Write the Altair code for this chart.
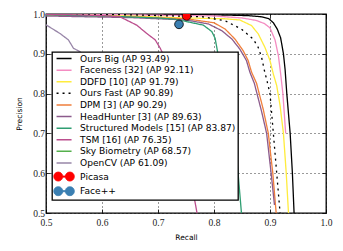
import altair as alt
import pandas as pd

# ---- data ----
methods = [
    "Ours Big (AP 93.49)", "Faceness [32] (AP 92.11)", "DDFD [10] (AP 91.79)",
    "Ours Fast (AP 90.89)", "DPM [3] (AP 90.29)", "HeadHunter [3] (AP 89.63)",
    "Structured Models [15] (AP 83.87)", "TSM [16] (AP 76.35)",
    "Sky Biometry (AP 68.57)", "OpenCV (AP 61.09)", "Picasa", "Face++",
]
colors = ["#000000", "#f48cc2", "#ffec3d", "#000000", "#f07f3c", "#8c5b8c",
          "#2f9e72", "#bb4f8e", "#55b04d", "#9886a8", "#ff0000", "#3a7fb2"]
dashes = [[1, 0], [1, 0], [1, 0], [2, 4], [1, 0], [1, 0],
          [1, 0], [1, 0], [1, 0], [1, 0], [1, 0], [1, 0]]

ours_big_r = [0.50, 0.65, 0.80, 0.86, 0.885, 0.898, 0.906, 0.913, 0.919, 0.924, 0.927, 0.930, 0.933, 0.936, 0.940, 0.943]
ours_big_p = [1.0, 1.0, 0.998, 0.996, 0.993, 0.988, 0.978, 0.962, 0.94, 0.90, 0.86, 0.80, 0.75, 0.70, 0.60, 0.50]

faceness_r = [0.50, 0.65, 0.80, 0.85, 0.875, 0.89, 0.90, 0.909, 0.915, 0.919, 0.923, 0.925, 0.927, 0.928]
faceness_p = [0.999, 0.998, 0.995, 0.99, 0.984, 0.976, 0.965, 0.935, 0.895, 0.85, 0.80, 0.76, 0.72, 0.70]

ddfd_r = [0.50, 0.65, 0.75, 0.82, 0.846, 0.867, 0.879, 0.891, 0.90, 0.906, 0.912, 0.918, 0.924, 0.929, 0.933]
ddfd_p = [0.998, 0.995, 0.99, 0.988, 0.985, 0.971, 0.95, 0.916, 0.883, 0.849, 0.82, 0.77, 0.70, 0.60, 0.50]

ours_fast_r = [0.50, 0.65, 0.78, 0.82, 0.849, 0.870, 0.879, 0.885, 0.890, 0.895, 0.90, 0.906, 0.912, 0.918]
ours_fast_p = [1.0, 0.998, 0.993, 0.983, 0.962, 0.937, 0.916, 0.891, 0.858, 0.83, 0.80, 0.70, 0.60, 0.50]

dpm_r = [0.50, 0.65, 0.75, 0.80, 0.82, 0.8375, 0.852, 0.861, 0.867, 0.876, 0.888, 0.897, 0.905, 0.911]
dpm_p = [0.998, 0.993, 0.988, 0.978, 0.962, 0.937, 0.908, 0.883, 0.854, 0.826, 0.76, 0.70, 0.60, 0.50]

headhunter_r = [0.50, 0.65, 0.75, 0.79, 0.814, 0.832, 0.846, 0.858, 0.864, 0.872, 0.885, 0.894, 0.902, 0.908]
headhunter_p = [0.995, 0.991, 0.985, 0.975, 0.958, 0.937, 0.912, 0.883, 0.854, 0.826, 0.755, 0.70, 0.60, 0.52]

structured_r = [0.50, 0.60, 0.70, 0.73, 0.751, 0.781, 0.796, 0.802, 0.807, 0.811, 0.817, 0.823, 0.829, 0.8375, 0.843, 0.849]
structured_p = [0.998, 0.995, 0.99, 0.987, 0.981, 0.972, 0.956, 0.939, 0.90, 0.885, 0.86, 0.84, 0.80, 0.70, 0.60, 0.50]

tsm_r = [0.45, 0.55, 0.60, 0.632, 0.662, 0.68, 0.695, 0.704, 0.7125, 0.725, 0.74, 0.752, 0.762, 0.769, 0.772]
tsm_p = [1.0, 0.998, 0.996, 0.993, 0.972, 0.951, 0.935, 0.914, 0.889, 0.84, 0.76, 0.66, 0.56, 0.505, 0.48]

sky_r = [0.30, 0.40, 0.45, 0.48, 0.49]
sky_p = [1.0, 0.995, 0.98, 0.90, 0.70]

opencv_r = [0.40, 0.47, 0.501, 0.525, 0.540, 0.549, 0.561, 0.58, 0.60]
opencv_p = [1.0, 0.99, 0.972, 0.951, 0.935, 0.914, 0.905, 0.87, 0.80]

picasa_r, picasa_p = [0.751], [0.995]
facepp_r, facepp_p = [0.7375], [0.974]

curves = [
    (ours_big_r, ours_big_p), (faceness_r, faceness_p), (ddfd_r, ddfd_p),
    (ours_fast_r, ours_fast_p), (dpm_r, dpm_p), (headhunter_r, headhunter_p),
    (structured_r, structured_p), (tsm_r, tsm_p), (sky_r, sky_p), (opencv_r, opencv_p),
]
rows = []
for name, (rr, pp) in zip(methods, curves):
    for i, (r, p) in enumerate(zip(rr, pp)):
        rows.append({"method": name, "recall": r, "precision": p, "i": i})
lines_df = pd.DataFrame(rows)
points_df = pd.DataFrame({
    "method": ["Picasa", "Face++"],
    "recall": picasa_r + facepp_r,
    "precision": picasa_p + facepp_p,
})

ticks = [0.5, 0.6, 0.7, 0.8, 0.9, 1.0]
xscale = alt.Scale(domain=[0.5, 1.0], nice=False, zero=False)
yscale = alt.Scale(domain=[0.5, 1.0], nice=False, zero=False)
cscale = alt.Scale(domain=methods, range=colors)

is_pt = "(datum.value === 'Picasa' || datum.value === 'Face++')"
pt_path = ("M-2.06,0A0.9,0.9 0 1,0 -0.26,0A0.9,0.9 0 1,0 -2.06,0Z "
           "M0.26,0A0.9,0.9 0 1,0 2.06,0A0.9,0.9 0 1,0 0.26,0Z "
           "M-0.3,-0.12L0.3,-0.12L0.3,0.12L-0.3,0.12Z")
legend = alt.Legend(
    title=None, orient="none", legendX=6, legendY=38,
    fillColor="white", strokeColor="black", cornerRadius=0,
    padding=2, symbolOffset=5.5, labelOffset=11.5, rowPadding=1.6,
    labelFont="DejaVu Sans", labelFontSize=9.1, labelColor="black",
    labelLimit=300, symbolSize=100, symbolOpacity=1,
    symbolType={"expr": f"{is_pt} ? '{pt_path}' : 'M-1.5,0L1.5,0'"},
    symbolFillColor={"expr": f"{is_pt} ? scale('color', datum.value) : 'transparent'"},
    symbolStrokeColor={"expr": f"{is_pt} ? 'black' : scale('color', datum.value)"},
    symbolStrokeWidth={"expr": f"{is_pt} ? 0.8 : 1.5"},
    symbolDash={"expr": "datum.value === 'Ours Fast (AP 90.89)' ? [2, 3] : [1, 0]"},
)

common_axis = dict(values=ticks, format=".1f", gridDash=[1, 3], gridColor="black",
                   gridOpacity=1, gridWidth=0.8, domain=False, tickColor="black",
                   tickWidth=0.8, tickSize={"expr": "-4"}, labelFlush=False,
                   labelFont="Liberation Serif", labelFontSize=9.5, labelColor="#222222",
                   titleFont="DejaVu Sans", titleFontSize=7.5, titleFontWeight="normal",
                   titleColor="black")
xaxis = alt.Axis(title="Recall", grid=True, labelPadding=8, titlePadding=7, **common_axis)
yaxis = alt.Axis(title="Precision", grid=True, labelPadding=5.5, titlePadding=9.5, **common_axis)
xaxis_top = alt.Axis(orient="top", labels=False, title=None, grid=False, **common_axis)
yaxis_right = alt.Axis(orient="right", labels=False, title=None, grid=False, **common_axis)

lines = alt.Chart(lines_df).mark_line(clip=True, strokeWidth=1.3).encode(
    x=alt.X("recall:Q", scale=xscale, axis=xaxis),
    y=alt.Y("precision:Q", scale=yscale, axis=yaxis),
    color=alt.Color("method:N", scale=cscale, legend=legend),
    strokeDash=alt.StrokeDash("method:N", scale=alt.Scale(domain=methods, range=dashes), legend=None),
    order=alt.Order("i:Q"),
)

points = alt.Chart(points_df).mark_point(filled=True, size=75, stroke="black",
                                         strokeWidth=0.8, opacity=1, clip=True).encode(
    x=alt.X("recall:Q", scale=xscale, axis=xaxis_top),
    y=alt.Y("precision:Q", scale=yscale, axis=yaxis_right),
    color=alt.Color("method:N", scale=cscale, legend=legend),
)

chart = alt.layer(lines, points).resolve_axis(x="independent", y="independent").properties(
    width=280, height=199,
    autosize=alt.AutoSizeParams(type="none"),
    padding={"left": 38, "top": 6, "right": 9, "bottom": 30},
).configure_view(stroke="black", strokeWidth=1.3).configure_legend(strokeWidth=1.3)

chart.save("out.html", embed_options={"renderer": "svg", "actions": False})
